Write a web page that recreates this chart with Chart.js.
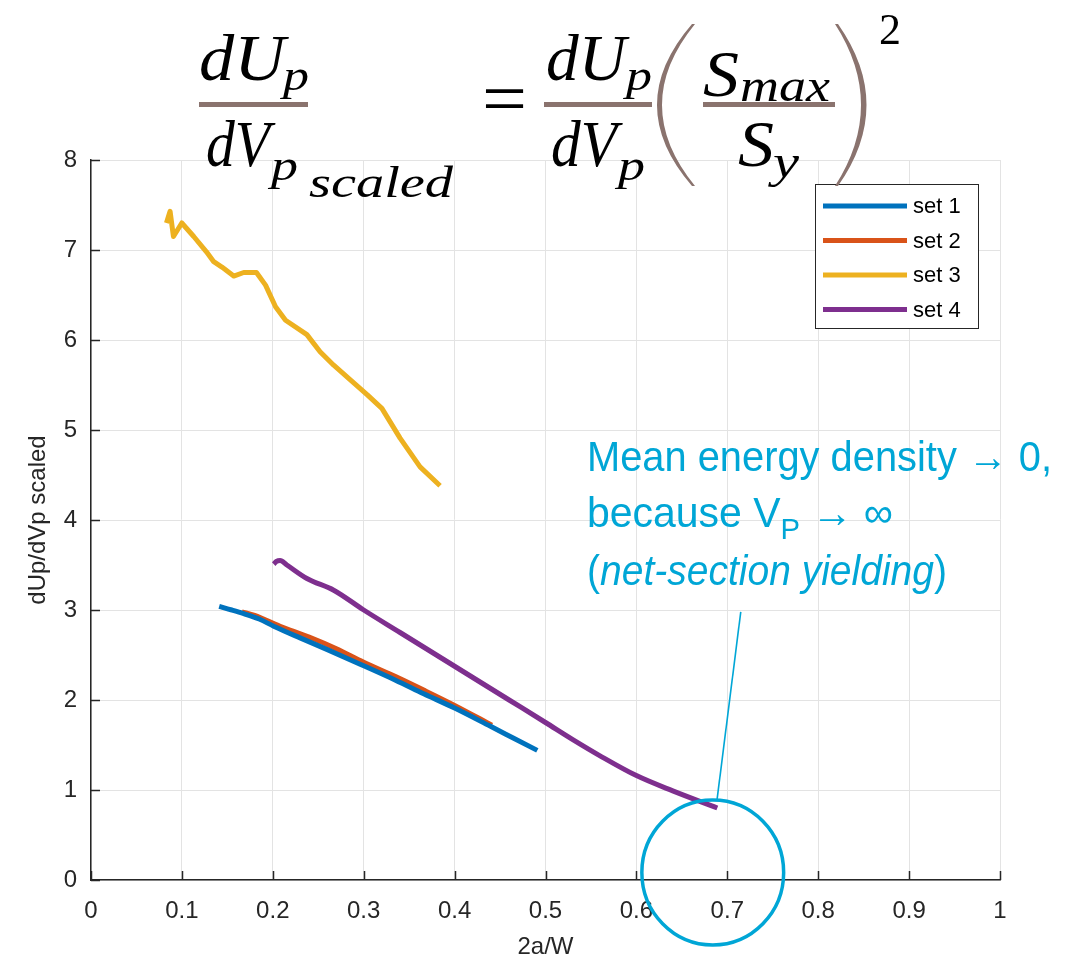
<!DOCTYPE html>
<html>
<head>
<meta charset="utf-8">
<script src="https://cdn.jsdelivr.net/npm/chart.js@4.4.1/dist/chart.umd.min.js"></script>
<style>
  html, body { margin: 0; padding: 0; background: #ffffff; }
  #wrap { position: relative; width: 1076px; height: 962px; overflow: hidden; }
  #c { position: absolute; left: 0; top: 0; }
  #ov { position: absolute; left: 0; top: 0; pointer-events: none; }
</style>
</head>
<body>
<div id="wrap">
<canvas id="c" width="1076" height="962"></canvas>
<svg id="ov" width="1076" height="962" xmlns="http://www.w3.org/2000/svg">
  <g font-family="'Liberation Serif', 'DejaVu Serif', serif" font-style="italic" fill="#000">
    <text x="199" y="80" font-size="66" textLength="86" lengthAdjust="spacingAndGlyphs">dU</text>
    <text x="283" y="90" font-size="44" textLength="26" lengthAdjust="spacingAndGlyphs">p</text>
    <text x="206" y="166" font-size="66" textLength="64" lengthAdjust="spacingAndGlyphs">dV</text>
    <text x="271" y="180" font-size="44" textLength="27" lengthAdjust="spacingAndGlyphs">p</text>
    <text x="309" y="197" font-size="44" textLength="144" lengthAdjust="spacingAndGlyphs">scaled</text>
    <text x="546" y="80" font-size="66" textLength="80" lengthAdjust="spacingAndGlyphs">dU</text>
    <text x="626" y="90" font-size="44" textLength="26" lengthAdjust="spacingAndGlyphs">p</text>
    <text x="551" y="166" font-size="66" textLength="66" lengthAdjust="spacingAndGlyphs">dV</text>
    <text x="618" y="180" font-size="44" textLength="27" lengthAdjust="spacingAndGlyphs">p</text>
    <text x="703" y="96" font-size="66" textLength="36" lengthAdjust="spacingAndGlyphs">S</text>
    <text x="740" y="101" font-size="46" textLength="90" lengthAdjust="spacingAndGlyphs">max</text>
    <text x="738" y="166" font-size="66" textLength="36" lengthAdjust="spacingAndGlyphs">S</text>
    <text x="773" y="177" font-size="46" textLength="26" lengthAdjust="spacingAndGlyphs">y</text>
  </g>
  <text x="482" y="123" font-family="'Liberation Serif', serif" font-size="74" textLength="45" lengthAdjust="spacingAndGlyphs" fill="#000">=</text>
  <text x="879" y="44" font-family="'Liberation Serif', serif" font-size="44" fill="#000">2</text>
  <rect x="199" y="102" width="109" height="5" fill="#8A736E"/>
  <rect x="544" y="102" width="108" height="5" fill="#8A736E"/>
  <rect x="703" y="102" width="132" height="5" fill="#8A736E"/>
  <path d="M692,24 Q622,105 692,186 L695,186 Q629,105 695,24 Z" fill="#8A736E"/>
  <path d="M838,24 Q895,105 838,186 L835,186 Q887,105 835,24 Z" fill="#8A736E"/>

  <g font-family="'Liberation Sans Narrow', 'Arial Narrow', 'Liberation Sans', sans-serif" font-size="42" fill="#00A6D6">
    <text x="587" y="471" textLength="465" lengthAdjust="spacingAndGlyphs">Mean energy density → 0,</text>
    <text x="587" y="527" textLength="306" lengthAdjust="spacingAndGlyphs">because V<tspan font-size="30" dy="12">P</tspan><tspan dy="-12"> → ∞</tspan></text>
    <text x="587" y="585" textLength="360" lengthAdjust="spacingAndGlyphs">(<tspan font-style="italic">net-section yielding</tspan>)</text>
  </g>
</svg>
</div>
<script>
// ---------- data ----------
const seriesNames = ['set 1', 'set 2', 'set 3', 'set 4'];
const seriesColors = ['#0072BD', '#D95319', '#EDB120', '#7E2F8E'];

const set1X = [0.141, 0.155, 0.168, 0.185, 0.201, 0.230, 0.260, 0.300, 0.335, 0.366, 0.400, 0.439, 0.465, 0.491];
const set1Y = [3.04, 3.00, 2.96, 2.90, 2.82, 2.69, 2.56, 2.38, 2.22, 2.07, 1.91, 1.71, 1.575, 1.44];

const set2X = [0.166, 0.180, 0.208, 0.240, 0.270, 0.300, 0.335, 0.366, 0.400, 0.441];
const set2Y = [2.98, 2.94, 2.82, 2.70, 2.57, 2.42, 2.26, 2.11, 1.94, 1.72];

const set3X = [0.083, 0.087, 0.0907, 0.0999, 0.113, 0.127, 0.135, 0.144, 0.157, 0.168, 0.182, 0.192, 0.203, 0.214, 0.2375, 0.252, 0.267, 0.285, 0.304, 0.320, 0.340, 0.362, 0.384];
const set3Y = [7.30, 7.43, 7.15, 7.30, 7.15, 6.98, 6.87, 6.81, 6.71, 6.75, 6.75, 6.61, 6.37, 6.22, 6.06, 5.87, 5.72, 5.56, 5.39, 5.24, 4.91, 4.59, 4.38];

const set4X = [0.201, 0.204, 0.208, 0.2155, 0.2375, 0.267, 0.300, 0.340, 0.380, 0.420, 0.460, 0.500, 0.530, 0.560, 0.600, 0.640, 0.689];
const set4Y = [3.51, 3.54, 3.55, 3.50, 3.35, 3.22, 3.00, 2.75, 2.50, 2.25, 2.00, 1.75, 1.56, 1.38, 1.16, 0.99, 0.80];

const xTickValues = [0, 0.1, 0.2, 0.3, 0.4, 0.5, 0.6, 0.7, 0.8, 0.9, 1];
const xTickLabels = ['0', '0.1', '0.2', '0.3', '0.4', '0.5', '0.6', '0.7', '0.8', '0.9', '1'];
const yTickValues = [0, 1, 2, 3, 4, 5, 6, 7, 8];
const yTickLabels = ['0', '1', '2', '3', '4', '5', '6', '7', '8'];

// annotation anchors (data coordinates)
const circleCenter = { x: 0.684, y: 0.083 };
const circleRadius = { x: 0.078, y: 0.805 };
const leaderFrom = { x: 0.7148, y: 2.98 };
const leaderTo = { x: 0.6887, y: 0.89 };

// ---------- build ----------
const xs = [set1X, set2X, set3X, set4X];
const ys = [set1Y, set2Y, set3Y, set4Y];
const datasets = seriesNames.map((name, k) => ({
  label: name,
  data: xs[k].map((x, i) => ({ x: x, y: ys[k][i] })),
  borderColor: seriesColors[k],
  backgroundColor: seriesColors[k],
  borderWidth: 5,
  pointRadius: 0,
  fill: false,
  borderCapStyle: 'butt',
  borderJoinStyle: 'round',
  cubicInterpolationMode: k === 2 ? 'default' : 'monotone',
  tension: k === 2 ? 0 : 0.4
}));

const AXIS = '#262626';
const FONT = "'Liberation Sans', Arial, sans-serif";

const decoPlugin = {
  id: 'deco',
  afterDatasetsDraw(chart) {
    const ctx = chart.ctx;
    const xS = chart.scales.x, yS = chart.scales.y;
    const ca = chart.chartArea;
    ctx.save();
    // inward tick marks
    ctx.strokeStyle = AXIS;
    ctx.lineWidth = 1.5;
    ctx.beginPath();
    xTickValues.forEach(v => {
      const px = Math.round(xS.getPixelForValue(v)) + 0.5;
      ctx.moveTo(px, ca.bottom);
      ctx.lineTo(px, ca.bottom - 9);
    });
    yTickValues.forEach(v => {
      const py = Math.round(yS.getPixelForValue(v)) + 0.5;
      ctx.moveTo(ca.left, py);
      ctx.lineTo(ca.left + 9, py);
    });
    ctx.stroke();

    // legend box
    const bx = ca.right - 185, by = ca.top + 24, bw = 163, bh = 144;
    ctx.fillStyle = '#ffffff';
    ctx.fillRect(bx, by, bw, bh);
    ctx.strokeStyle = AXIS;
    ctx.lineWidth = 1;
    ctx.strokeRect(bx + 0.5, by + 0.5, bw, bh);
    ctx.font = "22px " + FONT;
    ctx.textBaseline = 'middle';
    ctx.textAlign = 'left';
    chart.data.datasets.forEach((ds, i) => {
      const ly = by + 22 + i * 34.5;
      ctx.strokeStyle = ds.borderColor;
      ctx.lineWidth = 5;
      ctx.beginPath();
      ctx.moveTo(bx + 8, ly);
      ctx.lineTo(bx + 92, ly);
      ctx.stroke();
      ctx.fillStyle = '#000000';
      ctx.fillText(ds.label, bx + 98, ly + 1);
    });

    // annotation circle + leader line
    const cx = xS.getPixelForValue(circleCenter.x);
    const cy = yS.getPixelForValue(circleCenter.y);
    const rx = xS.getPixelForValue(circleCenter.x + circleRadius.x) - cx;
    const ry = cy - yS.getPixelForValue(circleCenter.y + circleRadius.y);
    ctx.strokeStyle = '#00A6D6';
    ctx.lineWidth = 3.5;
    ctx.beginPath();
    ctx.ellipse(cx, cy, rx, ry, 0, 0, Math.PI * 2);
    ctx.stroke();
    ctx.lineWidth = 1.6;
    ctx.beginPath();
    ctx.moveTo(xS.getPixelForValue(leaderFrom.x), yS.getPixelForValue(leaderFrom.y));
    ctx.lineTo(xS.getPixelForValue(leaderTo.x), yS.getPixelForValue(leaderTo.y));
    ctx.stroke();
    ctx.restore();
  }
};

new Chart(document.getElementById('c'), {
  type: 'line',
  data: { datasets: datasets },
  plugins: [decoPlugin],
  options: {
    responsive: false,
    animation: false,
    devicePixelRatio: 1,
    layout: { padding: { top: 160, right: 76, left: 0, bottom: 0 } },
    plugins: { legend: { display: false }, tooltip: { enabled: false }, title: { display: false } },
    scales: {
      x: {
        type: 'linear', min: 0, max: 1,
        afterBuildTicks(s) { s.ticks = xTickValues.map(v => ({ value: v })); },
        afterFit(s) { s.height = 82; },
        ticks: {
          autoSkip: false, maxRotation: 0, padding: 17, color: AXIS,
          font: { family: FONT, size: 24 },
          callback: (v, i) => xTickLabels[i]
        },
        grid: { color: '#e3e3e3', lineWidth: 1, drawTicks: false },
        border: { display: true, color: AXIS, width: 1.5 },
        title: { display: true, text: '2a/W', color: AXIS, font: { family: FONT, size: 24 }, padding: { top: 0, bottom: 0 } }
      },
      y: {
        type: 'linear', min: 0, max: 8,
        afterBuildTicks(s) { s.ticks = yTickValues.map(v => ({ value: v })); },
        afterFit(s) { s.width = 91; },
        ticks: {
          autoSkip: false, padding: 14, color: AXIS,
          font: { family: FONT, size: 24 },
          callback: (v, i) => yTickLabels[i]
        },
        grid: { color: '#e3e3e3', lineWidth: 1, drawTicks: false },
        border: { display: true, color: AXIS, width: 1.5 },
        title: { display: true, text: 'dUp/dVp scaled', color: AXIS, font: { family: FONT, size: 24 }, padding: { top: 24, bottom: 0 } }
      }
    }
  }
});
</script>
</body>
</html>
